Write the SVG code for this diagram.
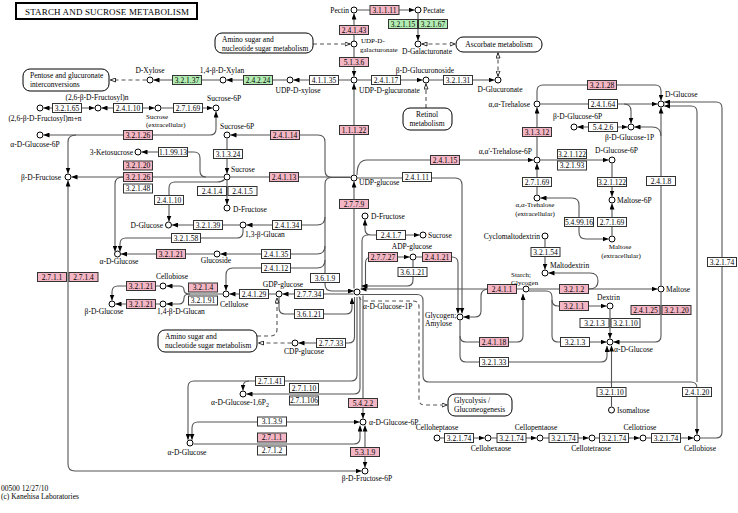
<svg xmlns="http://www.w3.org/2000/svg" width="738" height="513" viewBox="0 0 738 513">
<style>
text{font-family:"Liberation Serif","Times New Roman",serif;font-size:7.5px;fill:#000}
.s{text-anchor:start}.m{text-anchor:middle}.n{text-anchor:end}
.enz rect{stroke:#333;stroke-width:1;fill:#fff}
.enz text{text-anchor:middle}
.enz .p{fill:#f4b6c4}.enz .g{fill:#b2ecb2}
.cpd circle{fill:#fff;stroke:#000;stroke-width:1}
.map rect{fill:#fff;stroke:#000;stroke-width:1}
.ln{fill:none;stroke:#555;stroke-width:1.1}
.ds{stroke-dasharray:4 3}
.ttl{font-size:9px;letter-spacing:0.15px}
.sm{font-size:7px}
</style>
<defs>
<marker id="a" viewBox="0 0 6 5" refX="6" refY="2.5" markerWidth="6" markerHeight="5" markerUnits="userSpaceOnUse" orient="auto-start-reverse"><path d="M0,0L6,2.5L0,5z" fill="#000"/></marker>
<marker id="o" viewBox="0 0 6 5" refX="6" refY="2.5" markerWidth="6" markerHeight="5" markerUnits="userSpaceOnUse" orient="auto-start-reverse"><path d="M0.5,0.5L5.5,2.5L0.5,4.5z" fill="#fff" stroke="#000" stroke-width="0.8"/></marker>
</defs>
<rect width="738" height="513" fill="#fff"/>
<g id="title"><rect x="16" y="3" width="181" height="16" fill="#fff" stroke="#000" stroke-width="2"/><text class="ttl" x="25" y="14.5">STARCH AND SUCROSE METABOLISM</text></g>
<g id="footer"><text x="1" y="490.5">00500 12/27/10</text><text x="1" y="499">(c) Kanehisa Laboratories</text></g>

<g id="connectors">
<path class="ln" d="M354,41 V13.5" marker-end="url(#a)"/>
<path class="ln" d="M357.5,10 H414.5" marker-end="url(#a)"/>
<path class="ln" d="M418,13.5 V40.5" marker-end="url(#a)"/>
<path class="ln" d="M354,47.5 V76.5" marker-end="url(#a)"/>
<path class="ln" d="M354,174.5 V83.5" marker-end="url(#a)"/>
<path class="ln" d="M350.5,80 H293.5" marker-end="url(#a)"/>
<path class="ln" d="M286.5,80 H226.5" marker-end="url(#a)"/>
<path class="ln" d="M219.5,80 H153.5" marker-end="url(#a)"/>
<path class="ln ds" d="M146.5,80 H110" marker-end="url(#o)"/>
<path class="ln ds" d="M313,44 H350.5" marker-end="url(#o)"/>
<path class="ln ds" d="M421.5,44 H455.5" marker-start="url(#o)" marker-end="url(#o)"/>
<path class="ln" d="M357.5,80 H422.5" marker-end="url(#a)"/>
<path class="ln" d="M429.5,80 H494.5" marker-end="url(#a)"/>
<path class="ln ds" d="M498,52.5 V76.5" marker-start="url(#o)" marker-end="url(#o)"/>
<path class="ln ds" d="M426,108 V83.5" marker-end="url(#o)"/>
<path class="ln" d="M43.5,108 H94.5" marker-start="url(#a)" marker-end="url(#a)"/>
<path class="ln" d="M101.5,108 H154.5" marker-start="url(#a)" marker-end="url(#a)"/>
<path class="ln" d="M161.5,108 H212.5" marker-end="url(#a)"/>
<path class="ln" d="M216,111.5 V129 Q216,135 210,135 H43.5" marker-start="url(#a)" marker-end="url(#a)"/>
<path class="ln" d="M76,135 Q68,135 68,142 V173.5" marker-end="url(#a)"/>
<path class="ln" d="M141.5,152 H194 Q200,152 200,158 V171 Q200,177 206,177" marker-start="url(#a)"/>
<path class="ln" d="M223.5,177 H71.5" marker-end="url(#a)"/>
<path class="ln" d="M123,177 Q115,177 115,184 V251.5" marker-end="url(#a)"/>
<path class="ln" d="M224.5,179.5 Q222,182 217,182 H175 Q169,182 169,188 V221.5" marker-end="url(#a)"/>
<path class="ln" d="M227,180.5 V204.5" marker-end="url(#a)"/>
<path class="ln" d="M227,138.5 V173.5" marker-end="url(#a)"/>
<path class="ln" d="M350.5,177.5 H332 Q325,177.5 325,170.5 V142 Q325,135 318,135 H230.5" marker-end="url(#a)"/>
<path class="ln" d="M230.5,177 H350.5"/>
<path class="ln" d="M332,177.5 Q325,177.5 325,184 V284 Q325,291 332,291 H354" marker-end="url(#a)"/>
<path class="ln" d="M325,217 Q325,225 317,225 H246.5" marker-end="url(#a)"/>
<path class="ln" d="M325,246 Q325,254 317,254 H220.5" marker-end="url(#a)"/>
<path class="ln" d="M325,260 Q325,268 317,268 H233 Q226,268 226,275 V290.5" marker-end="url(#a)"/>
<path class="ln" d="M243,228.5 V232 Q243,238 237,238 H126 Q120,238 120,244 V251.5" marker-end="url(#a)"/>
<path class="ln" d="M239.5,225 H172" marker-end="url(#a)"/>
<path class="ln" d="M213.5,254 H121" marker-end="url(#a)"/>
<path class="ln" d="M68,180.5 V464 Q68,471 75,471 H361.5" marker-start="url(#a)" marker-end="url(#a)"/>
<path class="ln" d="M159.5,286 H118 Q112,286 112,292 V300.5" marker-end="url(#a)"/>
<path class="ln" d="M159.5,304 H115.5" marker-end="url(#a)"/>
<path class="ln" d="M222.5,294 H190 Q184,294 184,290 Q184,286 179,286 H166.5" marker-end="url(#a)"/>
<path class="ln" d="M190,294 Q184,294 184,298 Q184,304 179,304 H166.5" marker-end="url(#a)"/>
<path class="ln" d="M275.5,294 H229.5" marker-end="url(#a)"/>
<path class="ln" d="M353.5,294 H282.5" marker-end="url(#a)"/>
<path class="ln" d="M279,297.5 V308 Q279,314 285,314 H346 Q352,314 352,308 V298" marker-end="url(#a)"/>
<path class="ln" d="M354.5,297 V337 Q354.5,343 348.5,343 H298.5" marker-end="url(#a)"/>
<path class="ln" d="M357,297 V375 Q357,381 351,381 H194 Q188,381 188,387 V439.8" marker-end="url(#a)"/>
<path class="ln" d="M249,381 Q243,381 243,387 V390.5" marker-end="url(#a)"/>
<path class="ln" d="M360,297 V388 Q360,394 354,394 H246.5" marker-end="url(#a)"/>
<path class="ln" d="M363,295.5 V418.5" marker-end="url(#a)"/>
<path class="ln" d="M359.5,422 H198 Q192,422 192,428 V439.8" marker-start="url(#a)" marker-end="url(#a)"/>
<path class="ln" d="M193.5,444 H354 Q360,444 360,438 V425.5" marker-end="url(#a)"/>
<path class="ln" d="M365,425.5 V467.5" marker-start="url(#a)" marker-end="url(#a)"/>
<path class="ln" d="M357,175 Q357,160 367,160 H533.5" marker-end="url(#a)"/>
<path class="ln" d="M357.5,178 H455 Q462,178 462,185 V313.5" marker-end="url(#a)"/>
<path class="ln" d="M354,288.5 V181.5" marker-end="url(#a)"/>
<path class="ln" d="M537,156.5 V107.5" marker-end="url(#a)"/>
<path class="ln" d="M537,100.5 V91 Q537,85 543,85 H655 Q661,85 661,91 V100.5" marker-end="url(#a)"/>
<path class="ln" d="M540.5,104 H657.5" marker-end="url(#a)"/>
<path class="ln" d="M624,104 Q631,104 631,111 V123.5" marker-end="url(#a)"/>
<path class="ln" d="M627.5,127 H577.5" marker-start="url(#a)" marker-end="url(#a)"/>
<path class="ln" d="M661,285.5 V107.5" marker-end="url(#a)"/>
<path class="ln" d="M661,136 Q661,127 652,127 H634.5" marker-end="url(#a)"/>
<path class="ln" d="M700.5,438 H716 Q722,438 722,432 V108 Q722,102 716,102 H664.2" marker-end="url(#a)"/>
<path class="ln" d="M697,382 V112 Q697,106 691,106 H664.2" marker-end="url(#a)"/>
<path class="ln" d="M360,294.5 H417 Q423,294.5 423,300.5 V376 Q423,382 429,382 H691 Q697,382 697,388 V434.5" marker-end="url(#a)"/>
<path class="ln ds" d="M359,296.5 Q360,301 366,301 H413 Q419,301 419,307 V399 Q419,405 425,405 H447.5" marker-end="url(#o)"/>
<path class="ln" d="M522.5,289 H360.5" marker-end="url(#a)"/>
<path class="ln" d="M365,219.5 V229 Q365,235 371,235 H419.5" marker-start="url(#a)" marker-end="url(#a)"/>
<path class="ln" d="M362,289 V241 Q362,235 368,235"/>
<path class="ln" d="M365.5,287 V263 Q365.5,257 371.5,257 H409.5" marker-end="url(#a)"/>
<path class="ln" d="M413,260.5 V280 Q413,286 407,286 H361.5" marker-end="url(#a)"/>
<path class="ln" d="M416.5,257 H452 Q458,257 458,263 V313.5" marker-end="url(#a)"/>
<path class="ln" d="M489,289 Q481,289 481,296 V311 Q481,317 475,317 H463.5" marker-end="url(#a)"/>
<path class="ln" d="M460,320.5 V336 Q460,342 466,342 H517 Q523,342 523,336 V294" marker-end="url(#a)"/>
<path class="ln" d="M460,336 V356 Q460,362 466,362 H601 Q607,362 607,356 V346" marker-end="url(#a)"/>
<path class="ln" d="M529.5,289 H657.5" marker-end="url(#a)"/>
<path class="ln" d="M589,289 Q598,289 598,281 Q598,273 590,273 H548.5" marker-end="url(#a)"/>
<path class="ln" d="M545,239.5 V269.5" marker-end="url(#a)"/>
<path class="ln" d="M529,291 H546 Q552,291 552,297 V336 Q552,342 558,342 H606.5" marker-end="url(#a)"/>
<path class="ln" d="M552,300 Q552,306 558,306 H606.5" marker-end="url(#a)"/>
<path class="ln" d="M610,309.5 V338.5" marker-end="url(#a)"/>
<path class="ln" d="M661,292.5 V336 Q661,342 655,342 H613.5" marker-end="url(#a)"/>
<path class="ln" d="M611.5,406.5 V345.5" marker-end="url(#a)"/>
<path class="ln" d="M440.5,438 H484.5" marker-end="url(#a)"/>
<path class="ln" d="M491.5,438 H536.5" marker-end="url(#a)"/>
<path class="ln" d="M543.5,438 H588.5" marker-end="url(#a)"/>
<path class="ln" d="M595.5,438 H639.5" marker-end="url(#a)"/>
<path class="ln" d="M646.5,438 H693.5" marker-end="url(#a)"/>
<path class="ln" d="M540.5,198 H572 Q579,198 579,205 V232 Q579,239 586,239 H608.5" marker-start="url(#a)" marker-end="url(#a)"/>
<path class="ln" d="M612,235.5 V203.5" marker-end="url(#a)"/>
<path class="ln" d="M612,163.5 V196.5" marker-end="url(#a)"/>
<path class="ln" d="M540.5,160 H608.5" marker-end="url(#a)"/>
<path class="ln" d="M537,194.5 V163.5" marker-end="url(#a)"/>
<path class="ln ds" d="M257,336 H270 Q277,336 277,329 V297.5" marker-end="url(#o)"/>
<path class="ln ds" d="M291.5,343 H258" marker-end="url(#o)"/>
</g>

<g id="maps">
<g id="m-pentose" class="map"><rect x="23" y="69" width="86" height="22" rx="7"/><text x="30" y="78">Pentose and glucuronate</text><text x="30" y="87">interconversions</text></g>
<g id="m-amino1" class="map"><rect x="215" y="33" width="98" height="20" rx="7"/><text x="222" y="42">Amino sugar and</text><text x="222" y="50.5">nucleotide sugar metabolism</text></g>
<g id="m-ascorbate" class="map"><rect x="456" y="37" width="86" height="15" rx="7"/><text class="m" x="499" y="47">Ascorbate metabolism</text></g>
<g id="m-retinol" class="map"><rect x="403" y="108" width="49" height="22" rx="7"/><text class="m" x="427" y="117">Retinol</text><text class="m" x="427" y="126">metabolism</text></g>
<g id="m-amino2" class="map"><rect x="158" y="330" width="99" height="22" rx="7"/><text x="165" y="339">Amino sugar and</text><text x="165" y="347.5">nucleotide sugar metabolism</text></g>
<g id="m-glycolysis" class="map"><rect x="448" y="394" width="64" height="22" rx="7"/><text x="454" y="403">Glycolysis /</text><text x="454" y="412">Gluconeogenesis</text></g>
</g>

<g id="enzymes">
<g id="e1" class="enz"><rect class="p" x="370" y="5.5" width="29" height="9"/><text x="384.5" y="12.7">3.1.1.11</text></g>
<g id="e2" class="enz"><rect class="g" x="388.5" y="19.5" width="29" height="9"/><text x="403" y="26.7">3.2.1.15</text></g>
<g id="e3" class="enz"><rect class="g" x="418.5" y="19.5" width="29" height="9"/><text x="433" y="26.7">3.2.1.67</text></g>
<g id="e4" class="enz"><rect class="p" x="339.5" y="25.5" width="29" height="9"/><text x="354" y="32.7">2.4.1.43</text></g>
<g id="e5" class="enz"><rect class="p" x="339.5" y="57.5" width="29" height="9"/><text x="354" y="64.7">5.1.3.6</text></g>
<g id="e6" class="enz"><rect x="309.5" y="75.5" width="29" height="9"/><text x="324" y="82.7">4.1.1.35</text></g>
<g id="e7" class="enz"><rect class="g" x="243.5" y="75.5" width="29" height="9"/><text x="258" y="82.7">2.4.2.24</text></g>
<g id="e8" class="enz"><rect class="g" x="172.5" y="75.5" width="29" height="9"/><text x="187" y="82.7">3.2.1.37</text></g>
<g id="e9" class="enz"><rect x="371.5" y="75.5" width="29" height="9"/><text x="386" y="82.7">2.4.1.17</text></g>
<g id="e10" class="enz"><rect x="443.5" y="75.5" width="29" height="9"/><text x="458" y="82.7">3.2.1.31</text></g>
<g id="e11" class="enz"><rect class="p" x="339.5" y="125.5" width="29" height="9"/><text x="354" y="132.7">1.1.1.22</text></g>
<g id="e12" class="enz"><rect x="52.5" y="103.5" width="29" height="9"/><text x="67" y="110.7">3.2.1.65</text></g>
<g id="e13" class="enz"><rect x="113.5" y="103.5" width="29" height="9"/><text x="128" y="110.7">2.4.1.10</text></g>
<g id="e14" class="enz"><rect x="173.5" y="103.5" width="29" height="9"/><text x="188" y="110.7">2.7.1.69</text></g>
<g id="e15" class="enz"><rect class="p" x="123.5" y="130.5" width="29" height="9"/><text x="138" y="137.7">3.2.1.26</text></g>
<g id="e16" class="enz"><rect x="158.5" y="147.5" width="29" height="9"/><text x="173" y="154.7">1.1.99.13</text></g>
<g id="e17" class="enz"><rect class="p" x="270.5" y="130.5" width="29" height="9"/><text x="285" y="137.7">2.4.1.14</text></g>
<g id="e18" class="enz"><rect x="213.5" y="149.5" width="29" height="9"/><text x="228" y="156.7">3.1.3.24</text></g>
<g id="e19" class="enz"><rect class="p" x="123.5" y="161" width="29" height="9"/><text x="138" y="168.2">3.2.1.20</text></g>
<g id="e20" class="enz"><rect class="p" x="123.5" y="172.5" width="29" height="9"/><text x="138" y="179.7">3.2.1.26</text></g>
<g id="e21" class="enz"><rect x="123.5" y="184" width="29" height="9"/><text x="138" y="191.2">3.2.1.48</text></g>
<g id="e22" class="enz"><rect x="154.5" y="195.5" width="29" height="9"/><text x="169" y="202.7">2.4.1.10</text></g>
<g id="e23" class="enz"><rect x="197.5" y="186.5" width="29" height="9"/><text x="212" y="193.7">2.4.1.4</text></g>
<g id="e24" class="enz"><rect x="228" y="186.5" width="29" height="9"/><text x="242.5" y="193.7">2.4.1.5</text></g>
<g id="e25" class="enz"><rect class="p" x="269.5" y="172.5" width="29" height="9"/><text x="284" y="179.7">2.4.1.13</text></g>
<g id="e26" class="enz"><rect x="193.5" y="220.5" width="29" height="9"/><text x="208" y="227.7">3.2.1.39</text></g>
<g id="e27" class="enz"><rect x="272.5" y="220.5" width="29" height="9"/><text x="287" y="227.7">2.4.1.34</text></g>
<g id="e28" class="enz"><rect x="171.5" y="233.5" width="29" height="9"/><text x="186" y="240.7">3.2.1.58</text></g>
<g id="e29" class="enz"><rect class="p" x="156.5" y="249.5" width="29" height="9"/><text x="171" y="256.7">3.2.1.21</text></g>
<g id="e30" class="enz"><rect x="261.5" y="249.5" width="29" height="9"/><text x="276" y="256.7">2.4.1.35</text></g>
<g id="e31" class="enz"><rect x="261.5" y="263.5" width="29" height="9"/><text x="276" y="270.7">2.4.1.12</text></g>
<g id="e32" class="enz"><rect class="p" x="37.5" y="272.5" width="29" height="9"/><text x="52" y="279.7">2.7.1.1</text></g>
<g id="e33" class="enz"><rect class="p" x="69" y="272.5" width="29" height="9"/><text x="83.5" y="279.7">2.7.1.4</text></g>
<g id="e34" class="enz"><rect class="p" x="126.5" y="281.5" width="29" height="9"/><text x="141" y="288.7">3.2.1.21</text></g>
<g id="e35" class="enz"><rect class="p" x="126.5" y="299.5" width="29" height="9"/><text x="141" y="306.7">3.2.1.21</text></g>
<g id="e36" class="enz"><rect class="p" x="188.5" y="283" width="29" height="9"/><text x="203" y="290.2">3.2.1.4</text></g>
<g id="e37" class="enz"><rect x="188.5" y="296" width="29" height="9"/><text x="203" y="303.2">3.2.1.91</text></g>
<g id="e38" class="enz"><rect x="239.5" y="289.5" width="29" height="9"/><text x="254" y="296.7">2.4.1.29</text></g>
<g id="e39" class="enz"><rect x="294.5" y="289.5" width="29" height="9"/><text x="309" y="296.7">2.7.7.34</text></g>
<g id="e40" class="enz"><rect x="294.5" y="309.5" width="29" height="9"/><text x="309" y="316.7">3.6.1.21</text></g>
<g id="e41" class="enz"><rect x="310.5" y="273.5" width="29" height="9"/><text x="325" y="280.7">3.6.1.9</text></g>
<g id="e42" class="enz"><rect x="316.5" y="338.5" width="29" height="9"/><text x="331" y="345.7">2.7.7.33</text></g>
<g id="e43" class="enz"><rect x="255.5" y="376.5" width="29" height="9"/><text x="270" y="383.7">2.7.1.41</text></g>
<g id="e44" class="enz"><rect x="289.5" y="383.5" width="29" height="9"/><text x="304" y="390.7">2.7.1.10</text></g>
<g id="e45" class="enz"><rect x="289.5" y="396" width="29" height="9"/><text x="304" y="403.2">2.7.1.106</text></g>
<g id="e46" class="enz"><rect class="p" x="348.5" y="398.5" width="29" height="9"/><text x="363" y="405.7">5.4.2.2</text></g>
<g id="e47" class="enz"><rect x="257.5" y="417" width="29" height="9"/><text x="272" y="424.2">3.1.3.9</text></g>
<g id="e48" class="enz"><rect class="p" x="257.5" y="433" width="29" height="9"/><text x="272" y="440.2">2.7.1.1</text></g>
<g id="e49" class="enz"><rect x="257.5" y="446" width="29" height="9"/><text x="272" y="453.2">2.7.1.2</text></g>
<g id="e50" class="enz"><rect class="p" x="350.5" y="447.5" width="29" height="9"/><text x="365" y="454.7">5.3.1.9</text></g>
<g id="e51" class="enz"><rect class="p" x="339.5" y="199.5" width="29" height="9"/><text x="354" y="206.7">2.7.7.9</text></g>
<g id="e52" class="enz"><rect x="402.5" y="172.5" width="29" height="9"/><text x="417" y="179.7">2.4.1.11</text></g>
<g id="e53" class="enz"><rect class="p" x="430.5" y="155.5" width="29" height="9"/><text x="445" y="162.7">2.4.1.15</text></g>
<g id="e54" class="enz"><rect x="376.5" y="230.5" width="29" height="9"/><text x="391" y="237.7">2.4.1.7</text></g>
<g id="e55" class="enz"><rect class="p" x="368.5" y="252.5" width="29" height="9"/><text x="383" y="259.7">2.7.7.27</text></g>
<g id="e56" class="enz"><rect class="p" x="422.5" y="252.5" width="29" height="9"/><text x="437" y="259.7">2.4.1.21</text></g>
<g id="e57" class="enz"><rect x="398" y="267.5" width="29" height="9"/><text x="412.5" y="274.7">3.6.1.21</text></g>
<g id="e58" class="enz"><rect class="p" x="487.5" y="284.5" width="29" height="9"/><text x="502" y="291.7">2.4.1.1</text></g>
<g id="e59" class="enz"><rect class="p" x="479.5" y="337.5" width="29" height="9"/><text x="494" y="344.7">2.4.1.18</text></g>
<g id="e60" class="enz"><rect x="479.5" y="357.5" width="29" height="9"/><text x="494" y="364.7">3.2.1.33</text></g>
<g id="e61" class="enz"><rect class="p" x="522.5" y="127.5" width="29" height="9"/><text x="537" y="134.7">3.1.3.12</text></g>
<g id="e62" class="enz"><rect class="p" x="587.5" y="80.5" width="29" height="9"/><text x="602" y="87.7">3.2.1.28</text></g>
<g id="e63" class="enz"><rect x="588.5" y="99.5" width="29" height="9"/><text x="603" y="106.7">2.4.1.64</text></g>
<g id="e64" class="enz"><rect x="588.5" y="122.5" width="29" height="9"/><text x="603" y="129.7">5.4.2.6</text></g>
<g id="e65" class="enz"><rect x="557.5" y="149.5" width="29" height="9"/><text x="572" y="156.7">3.2.1.122</text></g>
<g id="e66" class="enz"><rect x="557.5" y="161" width="29" height="9"/><text x="572" y="168.2">3.2.1.93</text></g>
<g id="e67" class="enz"><rect x="597.5" y="177.5" width="29" height="9"/><text x="612" y="184.7">3.2.1.122</text></g>
<g id="e68" class="enz"><rect x="597.5" y="217.5" width="29" height="9"/><text x="612" y="224.7">2.7.1.69</text></g>
<g id="e69" class="enz"><rect x="564.5" y="217.5" width="29" height="9"/><text x="579" y="224.7">5.4.99.16</text></g>
<g id="e70" class="enz"><rect x="522.5" y="177.5" width="29" height="9"/><text x="537" y="184.7">2.7.1.69</text></g>
<g id="e71" class="enz"><rect x="531" y="247.5" width="29" height="9"/><text x="545.5" y="254.7">3.2.1.54</text></g>
<g id="e72" class="enz"><rect class="p" x="559.5" y="284.5" width="29" height="9"/><text x="574" y="291.7">3.2.1.2</text></g>
<g id="e73" class="enz"><rect class="p" x="559.5" y="301.5" width="29" height="9"/><text x="574" y="308.7">3.2.1.1</text></g>
<g id="e74" class="enz"><rect x="580" y="318.5" width="29" height="9"/><text x="594.5" y="325.7">3.2.1.3</text></g>
<g id="e75" class="enz"><rect x="611" y="318.5" width="29" height="9"/><text x="625.5" y="325.7">3.2.1.10</text></g>
<g id="e76" class="enz"><rect class="p" x="631" y="305.5" width="29" height="9"/><text x="645.5" y="312.7">2.4.1.25</text></g>
<g id="e77" class="enz"><rect class="p" x="662" y="305.5" width="29" height="9"/><text x="676.5" y="312.7">3.2.1.20</text></g>
<g id="e78" class="enz"><rect x="560.5" y="337.5" width="29" height="9"/><text x="575" y="344.7">3.2.1.3</text></g>
<g id="e79" class="enz"><rect x="646.5" y="176.5" width="29" height="9"/><text x="661" y="183.7">2.4.1.8</text></g>
<g id="e80" class="enz"><rect x="707.5" y="257.5" width="29" height="9"/><text x="722" y="264.7">3.2.1.74</text></g>
<g id="e81" class="enz"><rect x="597" y="387.5" width="29" height="9"/><text x="611.5" y="394.7">3.2.1.10</text></g>
<g id="e82" class="enz"><rect x="682.5" y="387.5" width="29" height="9"/><text x="697" y="394.7">2.4.1.20</text></g>
<g id="e83" class="enz"><rect x="444.5" y="433.5" width="29" height="9"/><text x="459" y="440.7">3.2.1.74</text></g>
<g id="e84" class="enz"><rect x="497" y="433.5" width="29" height="9"/><text x="511.5" y="440.7">3.2.1.74</text></g>
<g id="e85" class="enz"><rect x="549" y="433.5" width="29" height="9"/><text x="563.5" y="440.7">3.2.1.74</text></g>
<g id="e86" class="enz"><rect x="599.5" y="433.5" width="29" height="9"/><text x="614" y="440.7">3.2.1.74</text></g>
<g id="e87" class="enz"><rect x="651.5" y="433.5" width="29" height="9"/><text x="666" y="440.7">3.2.1.74</text></g>
</g>

<g id="compounds">
<g id="c-pectin" class="cpd"><circle cx="354" cy="10" r="3"/><text class="n" x="349" y="12.5">Pectin</text></g>
<g id="c-pectate" class="cpd"><circle cx="418" cy="10" r="3"/><text x="423" y="12.5">Pectate</text></g>
<g id="c-udpgal" class="cpd"><circle cx="354" cy="44" r="3"/><text class="sm" x="361" y="43">UDP-D-</text><text class="sm" x="360" y="51.5">galacturonate</text></g>
<g id="c-dgalact" class="cpd"><circle cx="418" cy="44" r="3"/><text class="m" x="427" y="54">D-Galacturonate</text></g>
<g id="c-udpglca" class="cpd"><circle cx="354" cy="80" r="3"/><text x="359" y="93">UDP-D-glucuronate</text></g>
<g id="c-udpxyl" class="cpd"><circle cx="290" cy="80" r="3"/><text class="m" x="298" y="93">UDP-D-xylose</text></g>
<g id="c-xylan" class="cpd"><circle cx="223" cy="80" r="3"/><text class="m" x="222" y="73">1,4-β-D-Xylan</text></g>
<g id="c-dxylose" class="cpd"><circle cx="150" cy="80" r="3"/><text class="m" x="150" y="73">D-Xylose</text></g>
<g id="c-glcuronoside" class="cpd"><circle cx="426" cy="80" r="3"/><text class="m" x="425" y="73">β-D-Glucuronoside</text></g>
<g id="c-dglca" class="cpd"><circle cx="498" cy="80" r="3"/><text class="m" x="500" y="92">D-Glucuronate</text></g>
<g id="c-fructn" class="cpd"><circle cx="98" cy="108" r="3"/><text class="m" x="97" y="100">(2,6-β-D-Fructosyl)n</text></g>
<g id="c-fructmn" class="cpd"><circle cx="40" cy="108" r="3"/><text class="m" x="45" y="121">(2,6-β-D-Fructosyl)m+n</text></g>
<g id="c-sucext" class="cpd"><circle cx="158" cy="108" r="3"/><text class="sm" x="146" y="118.5">Sucrose</text><text class="sm" x="146" y="127">(extracellular)</text></g>
<g id="c-suc6p1" class="cpd"><circle cx="216" cy="108" r="3"/><text x="207" y="101">Sucrose-6P</text></g>
<g id="c-glc6p1" class="cpd"><circle cx="40" cy="135" r="3"/><text class="m" x="35" y="147">α-D-Glucose-6P</text></g>
<g id="c-ketosuc" class="cpd"><circle cx="138" cy="152" r="3"/><text class="n" x="133" y="154.5">3-Ketosucrose</text></g>
<g id="c-suc6p2" class="cpd"><circle cx="227" cy="135" r="3"/><text x="220" y="129">Sucrose-6P</text></g>
<g id="c-sucrose" class="cpd"><circle cx="227" cy="177" r="3"/><text x="231" y="172">Sucrose</text></g>
<g id="c-bfru" class="cpd"><circle cx="68" cy="177" r="3"/><text class="n" x="61" y="179.5">β-D-Fructose</text></g>
<g id="c-dfru1" class="cpd"><circle cx="227" cy="208" r="3"/><text x="233" y="212">D-Fructose</text></g>
<g id="c-dglc1" class="cpd"><circle cx="168.5" cy="225" r="3"/><text class="n" x="163" y="227.5">D-Glucose</text></g>
<g id="c-glucan13" class="cpd"><circle cx="243" cy="225" r="3"/><text x="245" y="237">1,3-β-Glucan</text></g>
<g id="c-aglc1" class="cpd"><circle cx="117.5" cy="254" r="3"/><text class="m" x="119" y="264">α-D-Glucose</text></g>
<g id="c-glucoside" class="cpd"><circle cx="217" cy="254" r="3"/><text class="m" x="216" y="263">Glucoside</text></g>
<g id="c-cellobiose1" class="cpd"><circle cx="163" cy="286" r="3"/><text class="m" x="172" y="279">Cellobiose</text></g>
<g id="c-bglc" class="cpd"><circle cx="112" cy="304" r="3"/><text class="m" x="104" y="314">β-D-Glucose</text></g>
<g id="c-glucan14" class="cpd"><circle cx="163" cy="304" r="3"/><text x="157" y="314">1,4-β-D-Glucan</text></g>
<g id="c-cellulose" class="cpd"><circle cx="226" cy="294" r="3"/><text x="220" y="307">Cellulose</text></g>
<g id="c-gdpglc" class="cpd"><circle cx="279" cy="294" r="3"/><text class="m" x="283" y="287">GDP-glucose</text></g>
<g id="c-cdpglc" class="cpd"><circle cx="295" cy="343" r="3"/><text class="m" x="304" y="354">CDP-glucose</text></g>
<g id="c-udpglc" class="cpd"><circle cx="354" cy="178" r="3"/><text x="359" y="185">UDP-glucose</text></g>
<g id="c-dfru2" class="cpd"><circle cx="365" cy="216" r="3"/><text x="371" y="219">D-Fructose</text></g>
<g id="c-sucrose2" class="cpd"><circle cx="423" cy="235" r="3"/><text x="428" y="237.5">Sucrose</text></g>
<g id="c-adpglc" class="cpd"><circle cx="413" cy="257" r="3"/><text class="m" x="412" y="249">ADP-glucose</text></g>
<g id="c-aglc1p" class="cpd"><circle cx="357" cy="292" r="3"/><text x="363" y="309">α-D-Glucose-1P</text></g>
<g id="c-glycogen" class="cpd"><circle cx="460" cy="317" r="3"/><text x="425" y="318">Glycogen;</text><text x="425" y="326">Amylose</text></g>
<g id="c-starch" class="cpd"><circle cx="526" cy="289" r="3"/><text class="sm" x="511" y="276.5">Starch;</text><text class="sm" x="511" y="284.5">Glycogen</text></g>
<g id="c-tre" class="cpd"><circle cx="537" cy="104" r="3"/><text class="n" x="530" y="106.5">α,α-Trehalose</text></g>
<g id="c-tre6p" class="cpd"><circle cx="537" cy="160" r="3"/><text class="n" x="532" y="154">α,α'-Trehalose-6P</text></g>
<g id="c-treext" class="cpd"><circle cx="537" cy="198" r="3"/><text class="m sm" x="535" y="207">α,α-Trehalose</text><text class="m sm" x="535" y="215.5">(extracellular)</text></g>
<g id="c-dglc2" class="cpd"><circle cx="661" cy="104" r="3"/><text x="665" y="97">D-Glucose</text></g>
<g id="c-bglc6p" class="cpd"><circle cx="574" cy="127" r="3"/><text x="553" y="119">β-D-Glucose-6P</text></g>
<g id="c-bglc1p" class="cpd"><circle cx="631" cy="127" r="3"/><text x="605" y="140">β-D-Glucose-1P</text></g>
<g id="c-glc6p2" class="cpd"><circle cx="612" cy="160" r="3"/><text x="595" y="153">D-Glucose-6P</text></g>
<g id="c-mal6p" class="cpd"><circle cx="612" cy="200" r="3"/><text x="617" y="202.5">Maltose-6P</text></g>
<g id="c-malext" class="cpd"><circle cx="612" cy="239" r="3"/><text class="m sm" x="620" y="249">Maltose</text><text class="m sm" x="621" y="257.5">(extracellular)</text></g>
<g id="c-cyclo" class="cpd"><circle cx="545" cy="236" r="3"/><text class="n" x="540" y="238.5">Cyclomaltodextrin</text></g>
<g id="c-maltodex" class="cpd"><circle cx="545" cy="273" r="3"/><text x="550" y="268">Maltodextrin</text></g>
<g id="c-maltose" class="cpd"><circle cx="661" cy="289" r="3"/><text x="666" y="291.5">Maltose</text></g>
<g id="c-dextrin" class="cpd"><circle cx="610" cy="306" r="3"/><text x="597" y="300">Dextrin</text></g>
<g id="c-aglc2" class="cpd"><circle cx="610" cy="342" r="3"/><text x="614" y="352">α-D-Glucose</text></g>
<g id="c-isomaltose" class="cpd"><circle cx="611.5" cy="410" r="3"/><text x="617" y="412.5">Isomaltose</text></g>
<g id="c-aglc16p" class="cpd"><circle cx="243" cy="394" r="3"/><text class="m" x="240" y="405">α-D-Glucose-1,6P<tspan font-size="6" dy="1.5">2</tspan></text></g>
<g id="c-aglc3" class="cpd"><circle cx="190" cy="443" r="3"/><text class="m" x="187" y="455">α-D-Glucose</text></g>
<g id="c-aglc6p" class="cpd"><circle cx="363" cy="422" r="3"/><text x="369" y="424.5">α-D-Glucose-6P</text></g>
<g id="c-bfru6p" class="cpd"><circle cx="365" cy="471" r="3"/><text class="m" x="367" y="481">β-D-Fructose-6P</text></g>
<g id="c-cellohept" class="cpd"><circle cx="437" cy="438" r="3"/><text class="m" x="437" y="430">Celloheptaose</text></g>
<g id="c-cellohex" class="cpd"><circle cx="488" cy="438" r="3"/><text class="m" x="491" y="451">Cellohexaose</text></g>
<g id="c-cellopent" class="cpd"><circle cx="540" cy="438" r="3"/><text class="m" x="536" y="430">Cellopentaose</text></g>
<g id="c-cellotet" class="cpd"><circle cx="592" cy="438" r="3"/><text class="m" x="591" y="451">Cellotetraose</text></g>
<g id="c-cellotri" class="cpd"><circle cx="643" cy="438" r="3"/><text class="m" x="640" y="430">Cellotriose</text></g>
<g id="c-cellobiose2" class="cpd"><circle cx="697" cy="438" r="3"/><text class="m" x="700" y="451">Cellobiose</text></g>
</g>
</svg>
